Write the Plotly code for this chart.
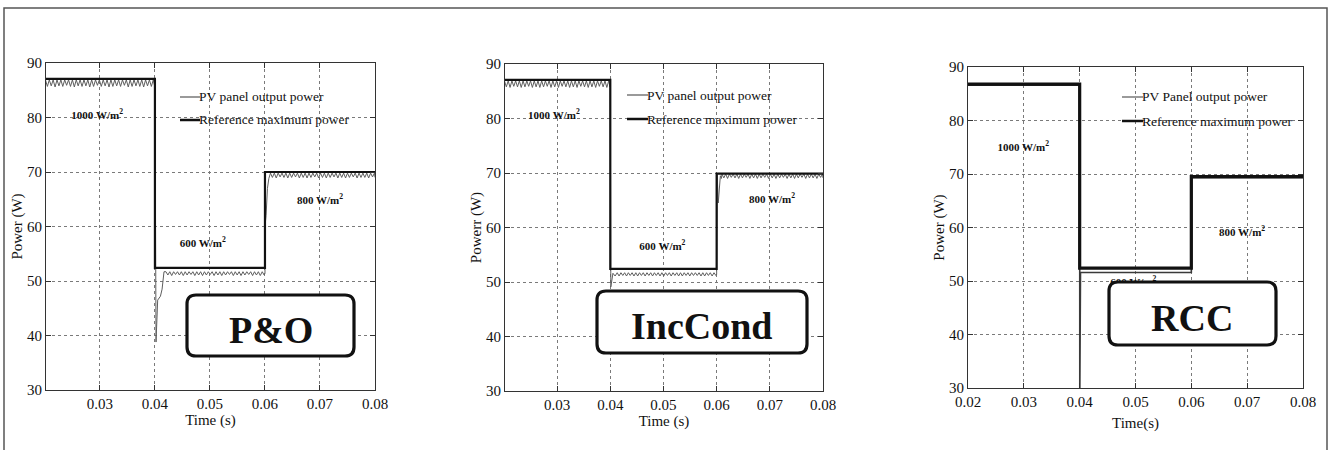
import plotly.graph_objects as go

W, H = 1328, 450

# ------------------------------------------------------------------ data
ref_t = [0.0200, 0.0400, 0.0400, 0.0600, 0.0600, 0.0800]
po_ref = [87.1, 87.1, 52.4, 52.4, 70.0, 70.0]
ic_ref = [87.1, 87.1, 52.4, 52.4, 69.9, 69.9]
rcc_ref = [86.8, 86.8, 52.4, 52.4, 69.5, 69.5]

ripple_a_t = [
    0.02010, 0.02045, 0.02080, 0.02115, 0.02150, 0.02185, 0.02220, 0.02255,
    0.02290, 0.02325, 0.02360, 0.02395, 0.02430, 0.02465, 0.02500, 0.02535,
    0.02570, 0.02605, 0.02640, 0.02675, 0.02710, 0.02745, 0.02780, 0.02815,
    0.02850, 0.02885, 0.02920, 0.02955, 0.02990, 0.03025, 0.03060, 0.03095,
    0.03130, 0.03165, 0.03200, 0.03235, 0.03270, 0.03305, 0.03340, 0.03375,
    0.03410, 0.03445, 0.03480, 0.03515, 0.03550, 0.03585, 0.03620, 0.03655,
    0.03690, 0.03725, 0.03760, 0.03795, 0.03830, 0.03865, 0.03900, 0.03935,
    0.03970, 0.03995]
po_ripple_a = [
    86.9, 85.7, 86.9, 85.8, 86.9, 85.6, 86.9, 85.8,
    86.9, 85.7, 86.9, 85.9, 86.9, 85.7, 86.9, 85.6,
    86.9, 85.8, 86.9, 85.7, 86.9, 85.8, 86.9, 85.6,
    86.9, 85.7, 86.9, 85.9, 86.9, 85.7, 86.9, 85.8,
    86.9, 85.6, 86.9, 85.7, 86.9, 85.8, 86.9, 85.7,
    86.9, 85.9, 86.9, 85.6, 86.9, 85.7, 86.9, 85.8,
    86.9, 85.7, 86.9, 85.6, 86.9, 85.8, 86.9, 85.7,
    86.9, 85.8]
ic_ripple_a = [
    86.9, 85.8, 86.9, 85.7, 86.9, 85.9, 86.9, 85.8,
    86.9, 85.7, 86.9, 85.8, 86.9, 85.9, 86.9, 85.7,
    86.9, 85.8, 86.9, 85.7, 86.9, 85.8, 86.9, 85.9,
    86.9, 85.7, 86.9, 85.8, 86.9, 85.7, 86.9, 85.9,
    86.9, 85.8, 86.9, 85.7, 86.9, 85.8, 86.9, 85.7,
    86.9, 85.9, 86.9, 85.8, 86.9, 85.7, 86.9, 85.8,
    86.9, 85.7, 86.9, 85.9, 86.9, 85.8, 86.9, 85.7,
    86.9, 85.8]

po_drop_t = [0.04000, 0.04020, 0.04050, 0.04100, 0.04130, 0.04165]
po_drop = [86.9, 38.8, 46.5, 47.2, 48.5, 51.7]
ic_drop_t = [0.04000, 0.04010, 0.04050, 0.04090, 0.04130, 0.04165]
ic_drop = [86.9, 49.1, 51.6, 51.1, 51.7, 51.1]

ripple_b_t = [
    0.04200, 0.04235, 0.04270, 0.04305, 0.04340, 0.04375, 0.04410, 0.04445,
    0.04480, 0.04515, 0.04550, 0.04585, 0.04620, 0.04655, 0.04690, 0.04725,
    0.04760, 0.04795, 0.04830, 0.04865, 0.04900, 0.04935, 0.04970, 0.05005,
    0.05040, 0.05075, 0.05110, 0.05145, 0.05180, 0.05215, 0.05250, 0.05285,
    0.05320, 0.05355, 0.05390, 0.05425, 0.05460, 0.05495, 0.05530, 0.05565,
    0.05600, 0.05635, 0.05670, 0.05705, 0.05740, 0.05775, 0.05810, 0.05845,
    0.05880, 0.05915, 0.05950, 0.05985]
po_ripple_b = [
    51.7, 51.1, 51.7, 51.0, 51.7, 51.2, 51.7, 51.1,
    51.7, 51.0, 51.7, 51.1, 51.7, 51.2, 51.7, 51.0,
    51.7, 51.1, 51.7, 51.0, 51.7, 51.1, 51.7, 51.2,
    51.7, 51.0, 51.7, 51.1, 51.7, 51.0, 51.7, 51.1,
    51.7, 51.2, 51.7, 51.0, 51.7, 51.1, 51.7, 51.0,
    51.7, 51.1, 51.7, 51.2, 51.7, 51.0, 51.7, 51.1,
    51.7, 51.0, 51.7, 51.1]
ic_ripple_b = [
    51.7, 51.2, 51.7, 51.1, 51.7, 51.2, 51.7, 51.1,
    51.7, 51.1, 51.7, 51.2, 51.7, 51.1, 51.7, 51.2,
    51.7, 51.1, 51.7, 51.2, 51.7, 51.1, 51.7, 51.1,
    51.7, 51.2, 51.7, 51.1, 51.7, 51.2, 51.7, 51.1,
    51.7, 51.1, 51.7, 51.2, 51.7, 51.1, 51.7, 51.2,
    51.7, 51.2, 51.7, 51.1, 51.7, 51.1, 51.7, 51.2,
    51.7, 51.1, 51.7, 51.2]

po_rise_t = [0.06000, 0.06005, 0.06020, 0.06045, 0.06070, 0.06090]
po_rise = [51.4, 60.5, 62.0, 67.0, 68.8, 69.4]
ic_rise_t = [0.06000, 0.06010, 0.06030, 0.06070, 0.06090]
ic_rise = [51.4, 69.7, 64.5, 69.5, 69.0]

ripple_c_t = [
    0.06100, 0.06135, 0.06170, 0.06205, 0.06240, 0.06275, 0.06310, 0.06345,
    0.06380, 0.06415, 0.06450, 0.06485, 0.06520, 0.06555, 0.06590, 0.06625,
    0.06660, 0.06695, 0.06730, 0.06765, 0.06800, 0.06835, 0.06870, 0.06905,
    0.06940, 0.06975, 0.07010, 0.07045, 0.07080, 0.07115, 0.07150, 0.07185,
    0.07220, 0.07255, 0.07290, 0.07325, 0.07360, 0.07395, 0.07430, 0.07465,
    0.07500, 0.07535, 0.07570, 0.07605, 0.07640, 0.07675, 0.07710, 0.07745,
    0.07780, 0.07815, 0.07850, 0.07885, 0.07920, 0.07955, 0.07990, 0.08000]
po_ripple_c = [
    69.8, 69.0, 69.8, 68.9, 69.8, 69.1, 69.8, 69.0,
    69.8, 68.9, 69.8, 69.0, 69.8, 69.1, 69.8, 68.9,
    69.8, 69.0, 69.8, 68.9, 69.8, 69.0, 69.8, 69.1,
    69.8, 68.9, 69.8, 69.0, 69.8, 68.9, 69.8, 69.0,
    69.8, 69.1, 69.8, 68.9, 69.8, 69.0, 69.8, 68.9,
    69.8, 69.0, 69.8, 69.1, 69.8, 68.9, 69.8, 69.0,
    69.8, 69.0, 69.8, 68.9, 69.8, 69.1, 69.8, 69.0]
ic_ripple_c = [
    69.8, 69.1, 69.8, 69.0, 69.8, 69.2, 69.8, 69.1,
    69.8, 69.0, 69.8, 69.1, 69.8, 69.2, 69.8, 69.0,
    69.8, 69.1, 69.8, 69.0, 69.8, 69.1, 69.8, 69.2,
    69.8, 69.0, 69.8, 69.1, 69.8, 69.0, 69.8, 69.1,
    69.8, 69.2, 69.8, 69.0, 69.8, 69.1, 69.8, 69.0,
    69.8, 69.1, 69.8, 69.2, 69.8, 69.0, 69.8, 69.1,
    69.8, 69.1, 69.8, 69.0, 69.8, 69.2, 69.8, 69.1]

rcc_pv_t = [0.0200, 0.0400, 0.04002, 0.04012, 0.04015, 0.0600, 0.06005, 0.0800]
rcc_pv = [86.6, 86.6, 28.0, 40.0, 51.6, 51.6, 69.3, 69.3]

po_t = ripple_a_t + po_drop_t + ripple_b_t + po_rise_t + ripple_c_t
po_pv = po_ripple_a + po_drop + po_ripple_b + po_rise + po_ripple_c
ic_t = ripple_a_t + ic_drop_t + ripple_b_t + ic_rise_t + ripple_c_t
ic_pv = ic_ripple_a + ic_drop + ic_ripple_b + ic_rise + ic_ripple_c

y_ticks = [30, 40, 50, 60, 70, 80, 90]
x_ticks_12 = [0.03, 0.04, 0.05, 0.06, 0.07, 0.08]
x_ticks_3 = [0.02, 0.03, 0.04, 0.05, 0.06, 0.07, 0.08]

method_names = ["P&O", "IncCond", "RCC"]
y_titles = ["Power (W)", "Powerr (W)", "Power (W)"]
x_titles = ["Time (s)", "Time (s)", "Time(s)"]
legend_pv = ["PV panel output power", "PV panel output power", "PV Panel output power"]
legend_ref = ["Reference maximum power"] * 3
irr_labels = ["1000 W/m<sup>2</sup>", "600 W/m<sup>2</sup>", "800 W/m<sup>2</sup>"]
irr_x = [[0.0295, 0.0487, 0.0700], [0.0294, 0.0498, 0.0704], [0.0299, 0.0496, 0.0691]]
irr_y = [[80.3, 56.8, 64.7], [80.4, 56.4, 65.0], [74.9, 49.6, 59.0]]

# ------------------------------------------------------------------ layout (pixels)
FONT = "Liberation Serif, Times New Roman, Times, serif"
plots = [  # left, right, top, bottom (px)
    (46, 375, 63, 390),
    (505, 823, 64, 391),
    (968, 1303, 67, 388),
]
x_ranges = [[0.0202, 0.08], [0.0202, 0.08], [0.02, 0.08]]
boxes = [(187, 354, 295, 356), (597, 807, 291, 353), (1109, 1276, 282, 345)]
box_text_pos = [(271, 330), (702, 326), (1192, 318)]
leg_pos = [(180, 200, 97, 120), (627, 648, 95, 119), (1122, 1143, 97, 121)]
ytitle_std = [0, 0, 0]
xtitle_std = [3, 3, 8]


def px(x):
    return x / W


def py(y):
    return 1 - y / H


fig = go.Figure()

series = [(po_t, po_pv, po_ref, 1.0, 2.2), (ic_t, ic_pv, ic_ref, 1.0, 2.2),
          (rcc_pv_t, rcc_pv, rcc_ref, 1.6, 3.2)]
pv_colors = ["#5e5e5e", "#5e5e5e", "#3a3a3a"]

for i, (t, pv, ref, pvw, refw) in enumerate(series):
    xa = "x" if i == 0 else f"x{i+1}"
    ya = "y" if i == 0 else f"y{i+1}"
    # irradiance labels (as text trace so the method box can cover them)
    fig.add_trace(go.Scatter(
        x=irr_x[i], y=irr_y[i], text=[f"<b>{s}</b>" for s in irr_labels],
        mode="text", textposition="middle center",
        textfont=dict(family=FONT, size=11, color="#111"),
        xaxis=xa, yaxis=ya, showlegend=False, hoverinfo="skip"))
    fig.add_trace(go.Scatter(
        x=t, y=pv, mode="lines", line=dict(color=pv_colors[i], width=pvw),
        xaxis=xa, yaxis=ya, showlegend=False))
    fig.add_trace(go.Scatter(
        x=ref_t, y=ref, mode="lines", line=dict(color="#111", width=refw),
        xaxis=xa, yaxis=ya, showlegend=False))

layout = dict(
    width=W, height=H, margin=dict(l=0, r=0, t=0, b=0, pad=0, autoexpand=False),
    paper_bgcolor="white", plot_bgcolor="white", showlegend=False,
    font=dict(family=FONT, color="#111"),
)

axis_common = dict(
    showline=True, linecolor="#333", linewidth=1, mirror="ticks",
    ticks="inside", ticklen=5, tickcolor="#333", automargin=False,
    showgrid=True, gridcolor="#7a7a7a", griddash="dot", gridwidth=1,
    zeroline=False, tickfont=dict(family=FONT, size=15, color="#111"),
)

for i, (l, r, t, b) in enumerate(plots):
    sx = "" if i == 0 else str(i + 1)
    xt = x_ticks_12 if i < 2 else x_ticks_3
    layout[f"xaxis{sx}"] = dict(
        axis_common, domain=[px(l), px(r)], range=x_ranges[i],
        anchor=f"y{sx}", tickvals=xt, ticktext=[f"{v:.2f}" for v in xt],
        title=dict(text=x_titles[i], font=dict(family=FONT, size=15), standoff=xtitle_std[i]))
    layout[f"yaxis{sx}"] = dict(
        axis_common, domain=[py(b), py(t)], range=[30, 90],
        anchor=f"x{sx}", tickvals=y_ticks, ticktext=[str(v) for v in y_ticks],
        title=dict(text=y_titles[i], font=dict(family=FONT, size=15), standoff=ytitle_std[i]))

shapes = []
annotations = []

# outer frame
shapes.append(dict(type="path", xref="paper", yref="paper",
                   path=f"M {px(4)},{py(452)} L {px(4)},{py(8)} L {px(1327)},{py(8)} L {px(1327)},{py(452)}",
                   line=dict(color="#555", width=1.5)))

for i in range(3):
    # legend
    x0, x1, yp, yr = leg_pos[i]
    shapes.append(dict(type="line", xref="paper", yref="paper",
                       x0=px(x0), x1=px(x1), y0=py(yp), y1=py(yp),
                       line=dict(color="#9a9a9a", width=2)))
    shapes.append(dict(type="line", xref="paper", yref="paper",
                       x0=px(x0), x1=px(x1), y0=py(yr), y1=py(yr),
                       line=dict(color="#111", width=2.5)))
    annotations.append(dict(xref="paper", yref="paper", x=px(x1) - 0.002, y=py(yp),
                            text=legend_pv[i], showarrow=False, xanchor="left",
                            yanchor="middle", font=dict(family=FONT, size=13.5, color="#111")))
    annotations.append(dict(xref="paper", yref="paper", x=px(x1) - 0.002, y=py(yr),
                            text=legend_ref[i], showarrow=False, xanchor="left",
                            yanchor="middle", font=dict(family=FONT, size=13.5, color="#111")))
    # rounded method box
    bl, br, bt, bb = boxes[i]
    rx, ry = 9 / W, 9 / H
    L, R, T, B = px(bl), px(br), py(bt), py(bb)
    path = (f"M {L+rx},{T} L {R-rx},{T} Q {R},{T} {R},{T-ry} "
            f"L {R},{B+ry} Q {R},{B} {R-rx},{B} L {L+rx},{B} "
            f"Q {L},{B} {L},{B+ry} L {L},{T-ry} Q {L},{T} {L+rx},{T} Z")
    shapes.append(dict(type="path", xref="paper", yref="paper", path=path,
                       fillcolor="white", line=dict(color="#111", width=3.2),
                       layer="above"))
    cx, cy = box_text_pos[i]
    annotations.append(dict(xref="paper", yref="paper", x=px(cx), y=py(cy),
                            text=f"<b>{method_names[i]}</b>", showarrow=False,
                            xanchor="center", yanchor="middle",
                            font=dict(family=FONT, size=38, color="#111")))

layout["shapes"] = shapes
layout["annotations"] = annotations
fig.update_layout(**layout)

fig.write_html("out.html")
